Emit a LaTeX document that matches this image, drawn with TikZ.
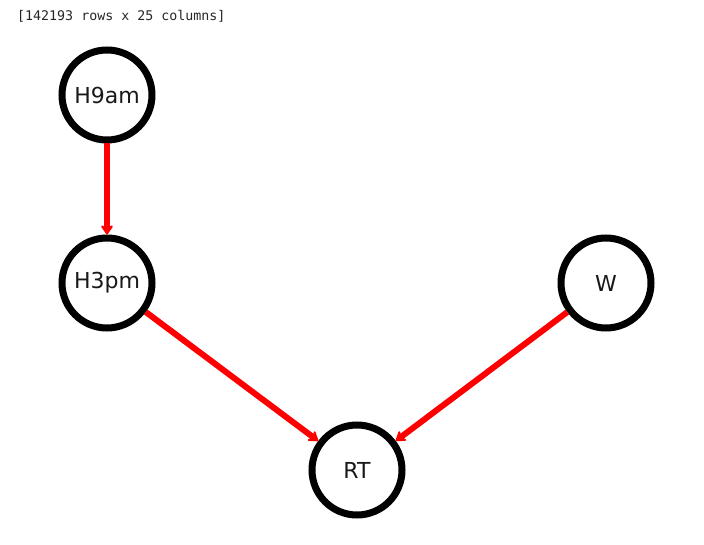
\documentclass[tikz,border=0pt]{standalone}
\usepackage{fontspec}
\setmainfont{DejaVu Sans}
\newfontfamily\monof{DejaVu Sans Mono}
\usetikzlibrary{arrows.meta}
\begin{document}
\begin{tikzpicture}[x=1pt,y=-1pt,
  var/.style={circle,draw=black,line width=7pt,fill=white,minimum size=90pt,inner sep=0pt,
    font=\fontsize{22}{26}\selectfont,text=black!90},
  edge/.style={draw=red,line width=6pt,-{Stealth[length=11pt,width=15pt,round]}}]
\useasboundingbox (0,0) rectangle (704,545);
\node[anchor=west,inner sep=0pt,font=\monof\fontsize{13.3}{16}\selectfont,text=black!85] (cap) at (17,16) {[142193 rows x 25 columns]};
\node[var] (h9) at (107,95) {H9am};
\node[var] (h3) at (107,283) {H3pm};
\node[var] (w) at (606,283) {W};
\node[var] (rt) at (357,470) {RT};
\draw[edge] (h9) -- (h3);
\draw[edge] (h3) -- (rt);
\draw[edge] (w) -- (rt);
\end{tikzpicture}
\end{document}
